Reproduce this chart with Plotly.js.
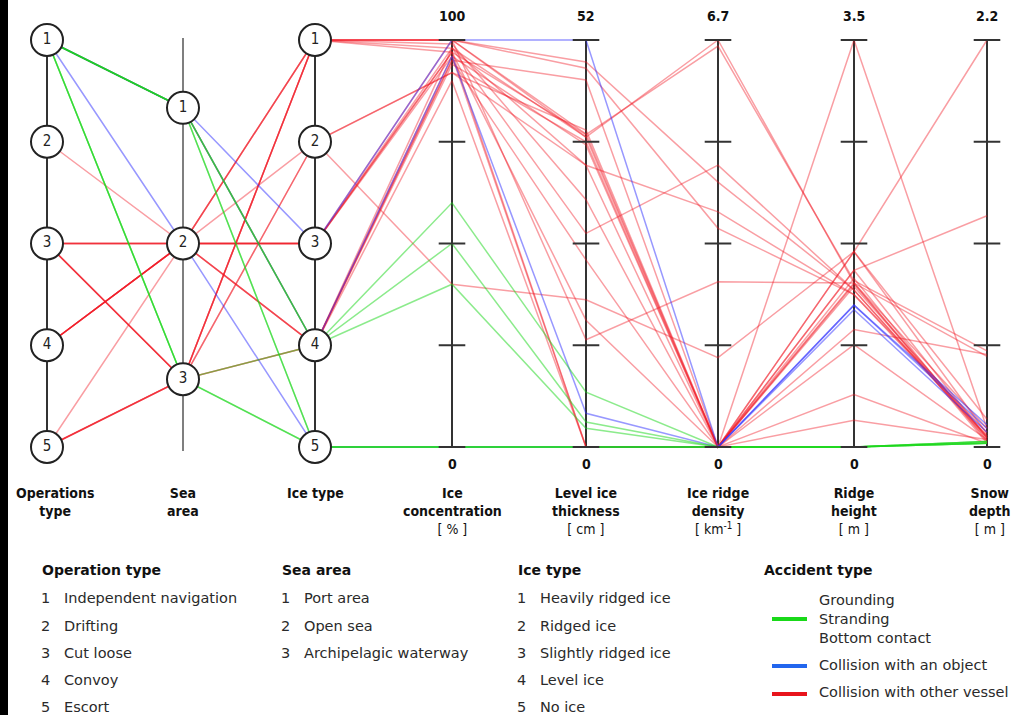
<!DOCTYPE html>
<html><head><meta charset="utf-8">
<script src="https://cdn.plot.ly/plotly-3.0.1.min.js"></script>
<style>html,body{margin:0;padding:0;background:#fff;overflow:hidden}#chart{width:1015px;height:715px}</style>
</head><body><div id="chart"></div>
<script>
// ---------- data (one entry per accident record) ----------
const opType      = [1,1,1,1,1,1,1, 1,1,1, 1,2,3,3,3,3,3,3,3,3,4,4,4,4,4,4,5,5,5,5,5];
const seaArea     = [1,1,1,3,3,3,1, 1,1,2, 1,2,2,2,2,2,3,3,3,3,2,2,2,2,2,2,2,3,3,3,3];
const iceType     = [5,5,4,5,5,4,4, 3,4,5, 4,2,3,3,1,3,1,1,2,4,1,1,4,4,3,4,3,1,1,4,2];
const iceConc     = [0,0,60,0,0,50,40, 100,96,0, 95,40,98,97,100,96,100,100,92,90,100,99,98,95,97,94,100,97,98,96,92];
const levelThick  = [0,0,7,0,0,3.2,2.4, 52,4.3,0, 46.9,18.8,39.6,39.9,49.2,38.6,48.4,39.6,36,0,40,31.6,27.3,23.9,16.2,39,13.7,0,36,0,40.5];
const ridgeDens   = [0,0,0,0,0,0,0, 0,0,0, 0,1.47,6.7,6.6,4.36,0,3.6,0,0,0,0,0,4.64,0,0,0,2.72,0,3.87,0,0];
const ridgeHeight = [0,0,0,0,0,0,0, 1.22,1.18,1.22, 0.23,1.68,1.41,1.43,1.35,1.52,1.31,3.5,1.41,0.88,1.45,1.68,1.35,1.01,0.45,1.38,1.41,1.68,1.31,1.52,1.4];
const snowDepth   = [0.03,0.02,0.03,0.02,0.03,0.02,0.02, 0.12,0.08,0.1, 0.04,2.2,0.49,0.52,0.04,1.25,0.06,0.1,0.02,0.04,0.03,0.07,0.05,0.5,0.02,0.06,0.1,0.15,0.08,0.05,0.05];
const accident    = ['G','G','G','G','G','G','G', 'B','B','B', 'R','R','R','R','R','R','R','R','R','R','R','R','R','R','R','R','R','R','R','R','R'];

const opLabels  = ['1','2','3','4','5'];
const seaLabels = ['1','2','3'];
const iceLabels = ['1','2','3','4','5'];
const numMax    = [100, 52, 6.7, 3.5, 2.2];
const numMaxLabels = ['100','52','6.7','3.5','2.2'];

const axisTitles = [
  '<b>Operations</b><br><b>type</b>',
  '<b>Sea</b><br><b>area</b>',
  '<b>Ice type</b>',
  '<b>Ice</b><br><b>concentration</b><br>[ % ]',
  '<b>Level ice</b><br><b>thickness</b><br>[ cm ]',
  '<b>Ice ridge</b><br><b>density</b><br>[ km<sup>-1</sup> ]',
  '<b>Ridge</b><br><b>height</b><br>[ m ]',
  '<b>Snow</b><br><b>depth</b><br>[ m ]'
];

const legOpTitle = 'Operation type';
const legOpItems = ['Independent navigation','Drifting','Cut loose','Convoy','Escort'];
const legSeaTitle = 'Sea area';
const legSeaItems = ['Port area','Open sea','Archipelagic waterway'];
const legIceTitle = 'Ice type';
const legIceItems = ['Heavily ridged ice','Ridged ice','Slightly ridged ice','Level ice','No ice'];
const legAccTitle = 'Accident type';
const legAccGroups = [['Grounding','Stranding','Bottom contact'],['Collision with an object'],['Collision with other vessel']];
const accKeys = ['G','B','R'];

// ---------- layout geometry ----------
const AX = [47,183,315,452,586,718,854,987];
const YT = 40, YB = 447;
const cat5 = v => YT + (v-1)/4*(YB-YT);
const cat3 = v => YT + (v-0.5)/3*(YB-YT);
const num  = (v,m) => YB - v/m*(YB-YT);

const lineCol = {R:'rgba(240,25,35,0.42)', G:'rgba(25,215,25,0.5)', B:'rgba(50,50,255,0.5)'};
const legCol  = {R:'#e8141c', G:'#19d919', B:'#2266ee'};

const traces = [];
['R','B','G'].forEach(k=>{
  for(let i=0;i<accident.length;i++){
    if(accident[i]!==k) continue;
    traces.push({type:'scatter',mode:'lines',hoverinfo:'skip',showlegend:false,
      x:AX.slice(),
      y:[cat5(opType[i]),cat3(seaArea[i]),cat5(iceType[i]),
         num(iceConc[i],numMax[0]),num(levelThick[i],numMax[1]),num(ridgeDens[i],numMax[2]),
         num(ridgeHeight[i],numMax[3]),num(snowDepth[i],numMax[4])],
      line:{color:lineCol[k],width:1.5,simplify:false}});
  }
});

// tick marks on numeric axes
const tx=[],ty=[];
for(let a=0;a<5;a++){for(let t=0;t<=4;t++){tx.push(AX[3+a]);ty.push(num(numMax[a]*t/4,numMax[a]));}}
traces.push({type:'scatter',mode:'markers',x:tx,y:ty,hoverinfo:'skip',showlegend:false,
  marker:{symbol:'line-ew',size:19,line:{color:'#333',width:2}}});

// circles
const cx=[],cy=[],ct=[];
opLabels.forEach((l,j)=>{cx.push(AX[0]);cy.push(cat5(j+1));ct.push(l);});
seaLabels.forEach((l,j)=>{cx.push(AX[1]);cy.push(cat3(j+1));ct.push(l);});
iceLabels.forEach((l,j)=>{cx.push(AX[2]);cy.push(cat5(j+1));ct.push(l);});
traces.push({type:'scatter',mode:'markers+text',x:cx,y:cy,text:ct,textposition:'middle center',
  hoverinfo:'skip',showlegend:false,cliponaxis:false,
  textfont:{family:'DejaVu Sans Condensed',size:15,color:'#222'},
  marker:{size:32,color:'#fff',line:{color:'#222',width:2}}});

const shapes=[];
// dark edge strip of the original figure
shapes.push({type:'line',xref:'x',yref:'y',x0:4,x1:4,y0:0,y1:715,line:{color:'#000',width:8},layer:'above'});
shapes.push({type:'line',x0:AX[0],x1:AX[0],y0:cat5(1),y1:cat5(5),line:{color:'#333',width:2},layer:'below'});
shapes.push({type:'line',x0:AX[1],x1:AX[1],y0:38,y1:451,line:{color:'#555',width:1.5},layer:'below'});
shapes.push({type:'line',x0:AX[2],x1:AX[2],y0:cat5(1),y1:cat5(5),line:{color:'#333',width:2},layer:'below'});
for(let a=0;a<5;a++) shapes.push({type:'line',x0:AX[3+a],x1:AX[3+a],y0:num(numMax[a],numMax[a]),y1:num(0,numMax[a]),line:{color:'#333',width:2},layer:'below'});

const ann=[];
const itemFont={family:'DejaVu Sans',size:14.5,color:'#2a2a2a'};
const T = (x,y,text,o)=>ann.push(Object.assign({x:x,y:y,xref:'x',yref:'y',text:text,showarrow:false,
  font:itemFont,xanchor:'left',yanchor:'middle'},o||{}));
const condB = {family:'DejaVu Sans Condensed',size:14,color:'#111'};
for(let a=0;a<5;a++){
  T(AX[3+a],16,'<b>'+numMaxLabels[a]+'</b>',{xanchor:'center',font:condB});
  T(AX[3+a],464,'<b>0</b>',{xanchor:'center',font:condB});
}
const titleX=[55,183,315,452,586,718,854,990];
axisTitles.forEach((t,j)=>T(titleX[j],483,t,{xanchor:'center',yanchor:'top',font:condB}));

// legend blocks
const bold={family:'DejaVu Sans',size:14,color:'#111'};
const ys=[598,626,653,680,707];
T(40,570,'<b>'+legOpTitle+'</b>',{font:bold});
legOpItems.forEach((s,j)=>{T(39,ys[j],String(j+1));T(62,ys[j],s);});
T(280,570,'<b>'+legSeaTitle+'</b>',{font:bold});
legSeaItems.forEach((s,j)=>{T(279,ys[j],String(j+1));T(302,ys[j],s);});
T(516,570,'<b>'+legIceTitle+'</b>',{font:bold});
legIceItems.forEach((s,j)=>{T(515,ys[j],String(j+1));T(538,ys[j],s);});
T(762,570,'<b>'+legAccTitle+'</b>',{font:bold});
const gy=[[600,619,638],[665],[692]], barY=[619,666,694];
legAccGroups.forEach((g,j)=>{
  g.forEach((s,m)=>T(817,gy[j][m],s));
  shapes.push({type:'line',x0:772,x1:807,y0:barY[j],y1:barY[j],line:{color:legCol[accKeys[j]],width:4}});
});

const layout={width:1015,height:715,margin:{l:0,r:0,t:0,b:0},paper_bgcolor:'#fff',plot_bgcolor:'#fff',
  showlegend:false,
  xaxis:{range:[0,1015],visible:false,fixedrange:true},
  yaxis:{range:[715,0],visible:false,fixedrange:true},
  shapes:shapes,annotations:ann};
Plotly.newPlot('chart',traces,layout,{displayModeBar:false,staticPlot:true});
</script></body></html>
